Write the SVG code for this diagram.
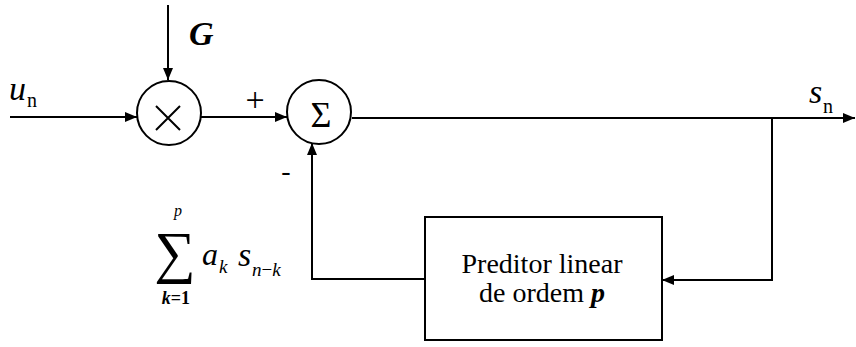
<svg xmlns="http://www.w3.org/2000/svg" width="856" height="347" viewBox="0 0 856 347">
<defs>
<marker id="ah" viewBox="0 0 12 10" refX="12" refY="5" markerWidth="12" markerHeight="10" markerUnits="userSpaceOnUse" orient="auto">
<path d="M0,0 L12,5 L0,10 Z" fill="#000"/>
</marker>
</defs>
<style>
.ln{fill:none;stroke:#000;stroke-width:2}
.nd{fill:#fff;stroke:#000;stroke-width:2}
.it{font-style:italic}
</style>
<rect width="856" height="347" fill="#fff"/>
<g id="connectors">
<line class="ln" x1="168" y1="5" x2="168" y2="80" marker-end="url(#ah)"/>
<line class="ln" x1="10" y1="117" x2="137" y2="117" marker-end="url(#ah)"/>
<line class="ln" x1="201" y1="117" x2="287" y2="117" marker-end="url(#ah)"/>
<line class="ln" x1="352" y1="118" x2="855" y2="118" marker-end="url(#ah)"/>
<polyline class="ln" points="772,118 772,280 662,280" marker-end="url(#ah)"/>
<polyline class="ln" points="425,279 312,279 312,143" marker-end="url(#ah)"/>
</g>
<g font-family="'Liberation Serif', 'Times New Roman', 'DejaVu Serif', serif" fill="#000">
<g id="multiplier">
<circle class="nd" cx="169" cy="113" r="32"/>
<path class="ln" d="M156,106 L180,130 M180,106 L156,130"/>
</g>
<g id="summer">
<circle class="nd" cx="319" cy="112" r="32"/>
<text x="321" y="127" font-size="36" text-anchor="middle">Σ</text>
</g>
<g id="predictor">
<rect class="nd" x="425" y="217" width="237" height="123"/>
<text x="542" y="273" font-size="28" text-anchor="middle">Preditor linear</text>
<text x="542" y="302" font-size="28" text-anchor="middle">de ordem <tspan class="it" font-weight="bold">p</tspan></text>
</g>
<g id="labels">
<text class="it" x="189" y="45" font-size="34" font-weight="bold">G</text>
<text class="it" x="9" y="100" font-size="34">u</text>
<text x="27" y="107" font-size="20">n</text>
<text class="it" x="809" y="103" font-size="34">s</text>
<text x="823" y="113" font-size="20">n</text>
<text x="255" y="111" font-size="34" text-anchor="middle">+</text>
<text x="286" y="180" font-size="28" text-anchor="middle">-</text>
<text x="175" y="272" font-size="58" text-anchor="middle">∑</text>
<text class="it" x="178" y="216" font-size="16" text-anchor="middle">p</text>
<text class="it" x="176" y="304" font-size="18" text-anchor="middle" font-weight="bold">k<tspan font-style="normal">=1</tspan></text>
<text class="it" x="202" y="265" font-size="32">a</text>
<text class="it" x="219" y="273" font-size="19">k</text>
<text class="it" x="238" y="266" font-size="34">s</text>
<text class="it" x="252" y="276" font-size="19">n<tspan font-style="normal">−</tspan>k</text>
</g>
</g>
</svg>
